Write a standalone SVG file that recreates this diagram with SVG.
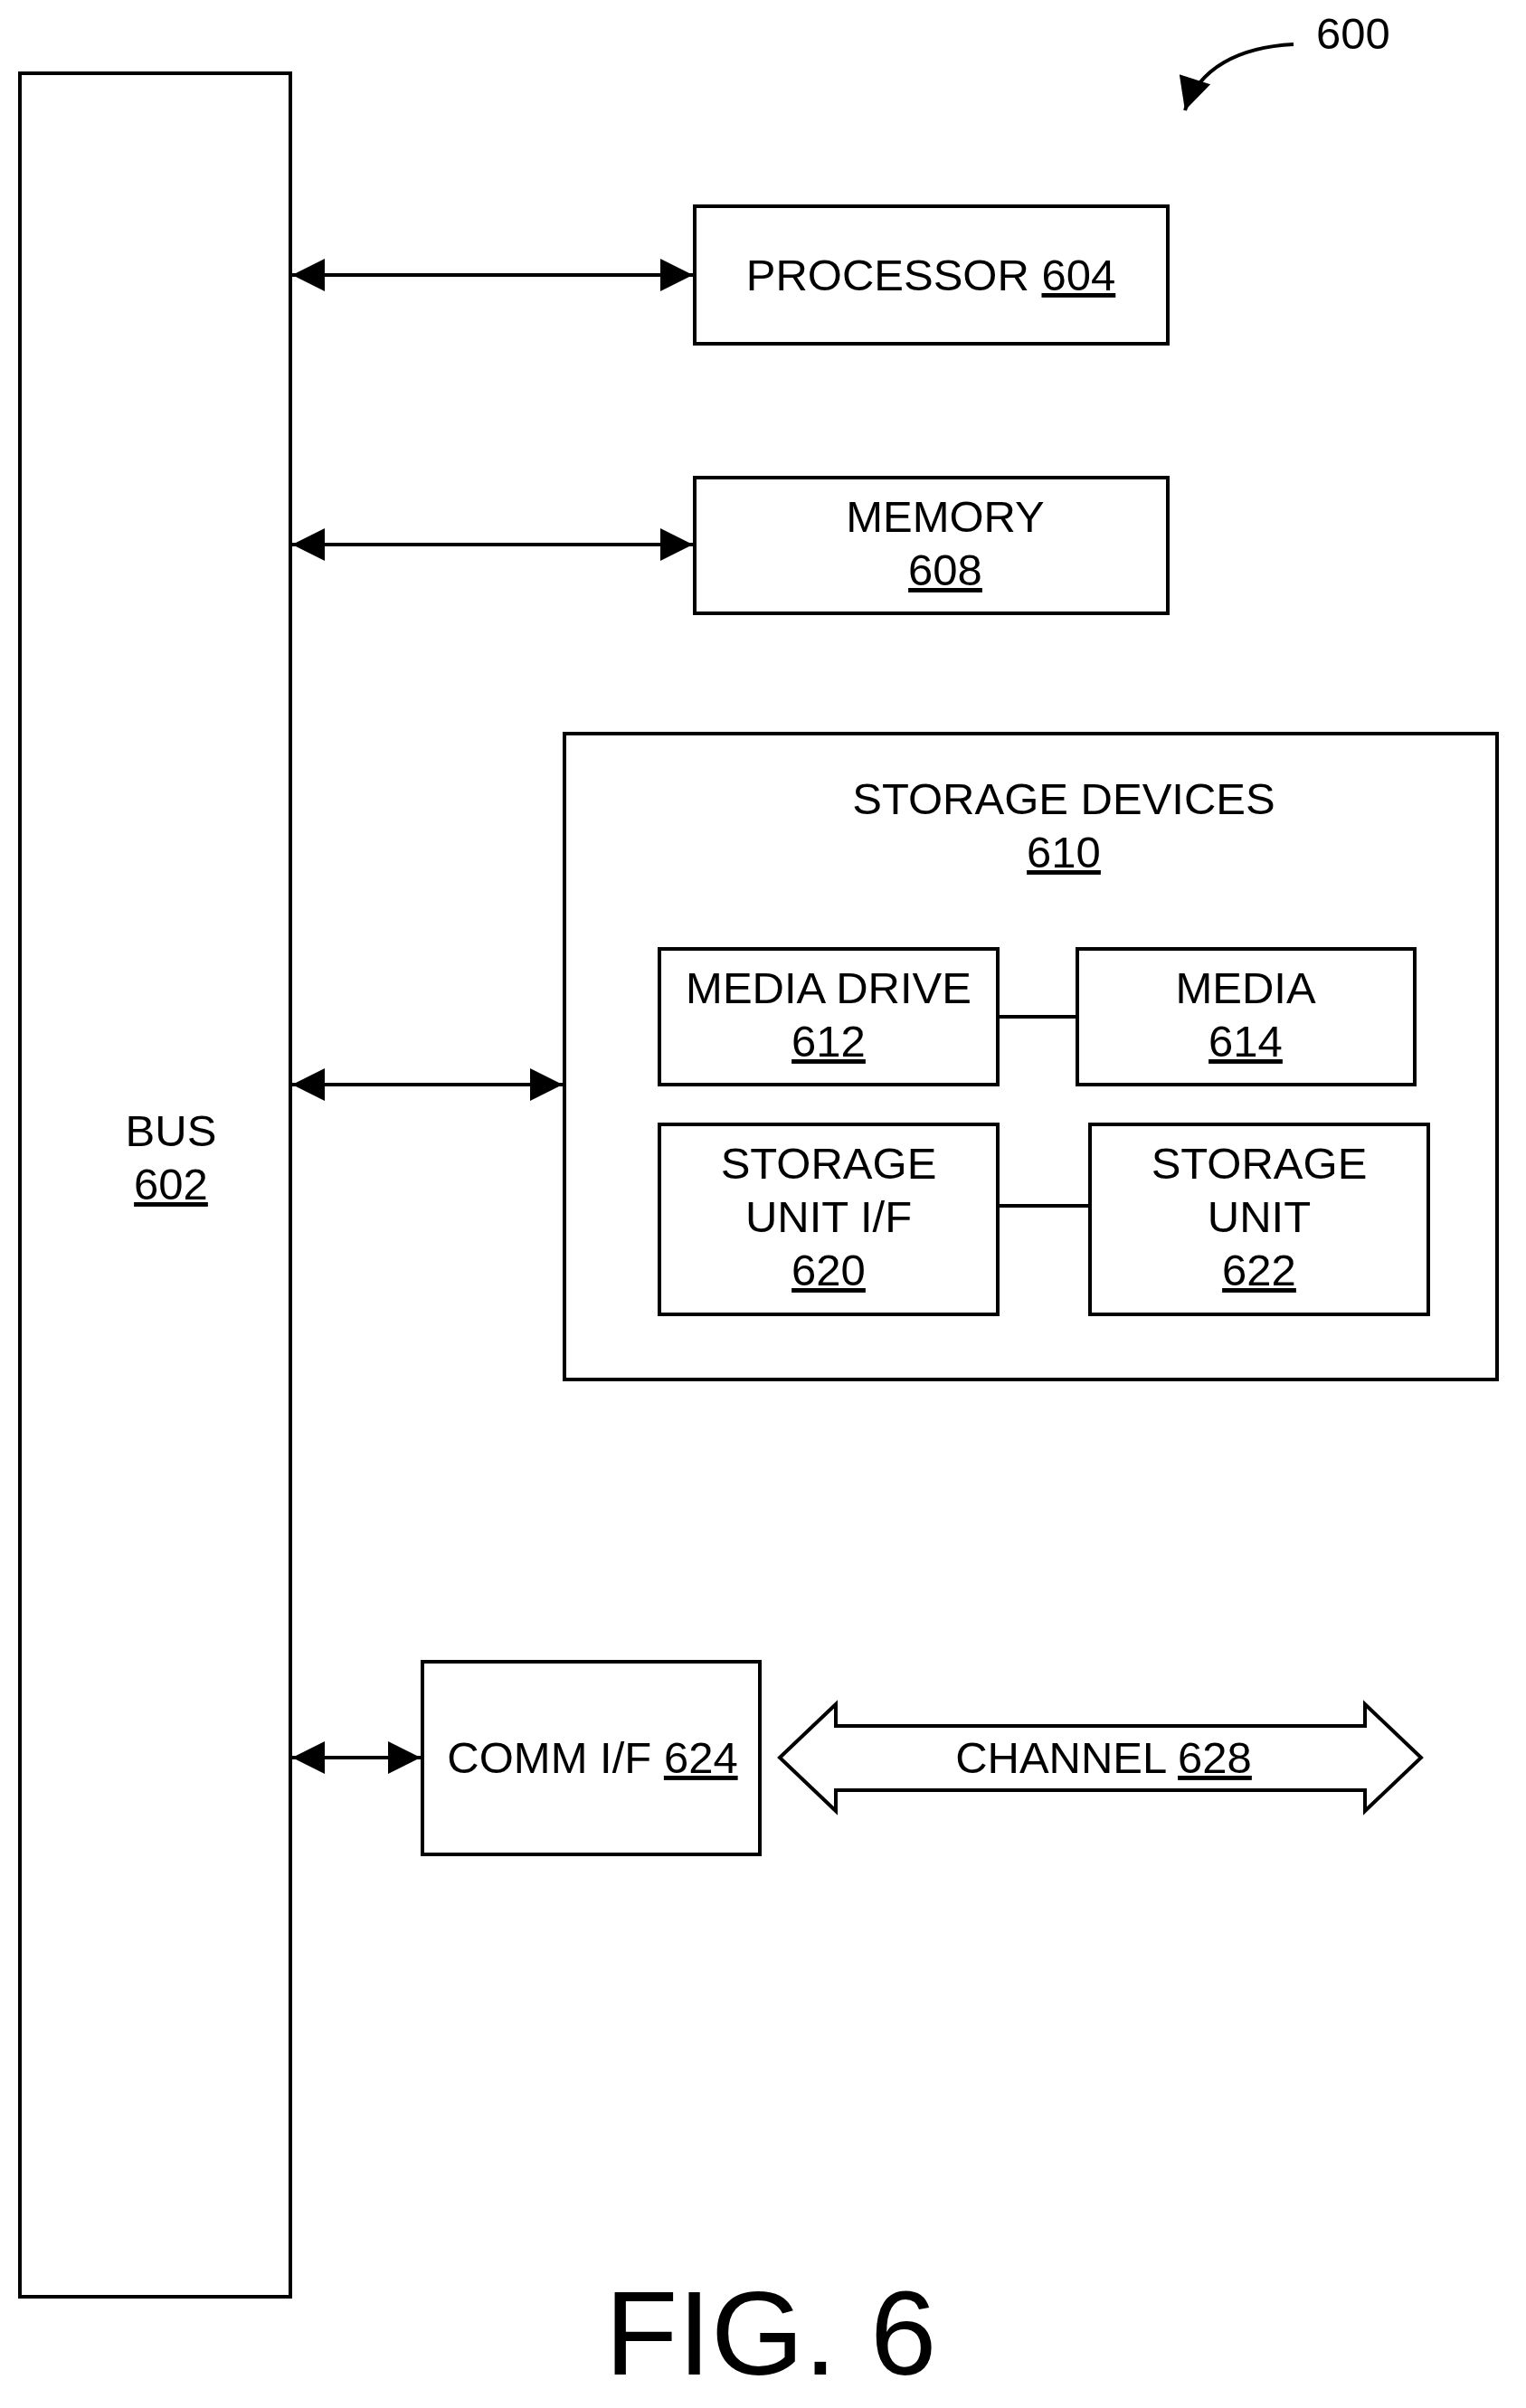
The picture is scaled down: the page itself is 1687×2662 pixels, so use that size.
<svg xmlns="http://www.w3.org/2000/svg" width="1687" height="2662" viewBox="0 0 1687 2662">
<style>
rect{fill:#fff;stroke:#000;stroke-width:4}
text{font-family:"Liberation Sans",Arial,sans-serif;font-size:49px;text-anchor:middle;fill:#000}
.u{text-decoration:underline}
.c{stroke:#000;stroke-width:4;fill:none}
</style>
<defs>
<marker id="b" viewBox="0 0 10 10" refX="10" refY="5" markerWidth="44" markerHeight="36" markerUnits="userSpaceOnUse" orient="auto-start-reverse"><path d="M0,0L10,5L0,10Z" fill="#000"/></marker>
</defs>
<g id="bus"><rect x="22" y="81" width="299" height="2458"/><text x="189" y="1267">BUS</text><text x="189" y="1326" class="u">602</text></g>
<g id="processor"><rect x="768" y="228" width="523" height="152"/><text x="1029" y="321">PROCESSOR <tspan class="u">604</tspan></text></g>
<g id="memory"><rect x="768" y="528" width="523" height="150"/><text x="1045" y="588">MEMORY</text><text x="1045" y="647" class="u">608</text></g>
<g id="storage"><rect x="624" y="811" width="1031" height="714"/><text x="1176" y="900">STORAGE DEVICES</text><text x="1176" y="959" class="u">610</text></g>
<g id="mediadrive"><rect x="729" y="1049" width="374" height="150"/><text x="916" y="1109">MEDIA DRIVE</text><text x="916" y="1168" class="u">612</text></g>
<g id="media"><rect x="1191" y="1049" width="373" height="150"/><text x="1377" y="1109">MEDIA</text><text x="1377" y="1168" class="u">614</text></g>
<g id="suif"><rect x="729" y="1243" width="374" height="210"/><text x="916" y="1303">STORAGE</text><text x="916" y="1362">UNIT I/F</text><text x="916" y="1421" class="u">620</text></g>
<g id="su"><rect x="1205" y="1243" width="374" height="210"/><text x="1392" y="1303">STORAGE</text><text x="1392" y="1362">UNIT</text><text x="1392" y="1421" class="u">622</text></g>
<g id="comm"><rect x="467" y="1837" width="373" height="213"/><text x="655" y="1960">COMM I/F <tspan class="u">624</tspan></text></g>
<g id="channel"><path d="M862,1943L924,1884L924,1908L1509,1908L1509,1884L1571,1943L1509,2002L1509,1979L924,1979L924,2002Z" fill="#fff" stroke="#000" stroke-width="4"/><text x="1220" y="1960">CHANNEL <tspan class="u">628</tspan></text></g>
<g id="connectors">
<line class="c" x1="323" y1="304" x2="766" y2="304" marker-start="url(#b)" marker-end="url(#b)"/>
<line class="c" x1="323" y1="602" x2="766" y2="602" marker-start="url(#b)" marker-end="url(#b)"/>
<line class="c" x1="323" y1="1199" x2="622" y2="1199" marker-start="url(#b)" marker-end="url(#b)"/>
<line class="c" x1="323" y1="1943" x2="465" y2="1943" marker-start="url(#b)" marker-end="url(#b)"/>
<line class="c" x1="1103" y1="1124" x2="1191" y2="1124"/>
<line class="c" x1="1103" y1="1333" x2="1205" y2="1333"/>
<path class="c" d="M1430,49C1370,52 1325,75 1310,122" marker-end="url(#b)"/>
</g>
<text x="1496" y="54">600</text>
<text x="852" y="2625" style="font-size:132px">FIG. 6</text>
</svg>
